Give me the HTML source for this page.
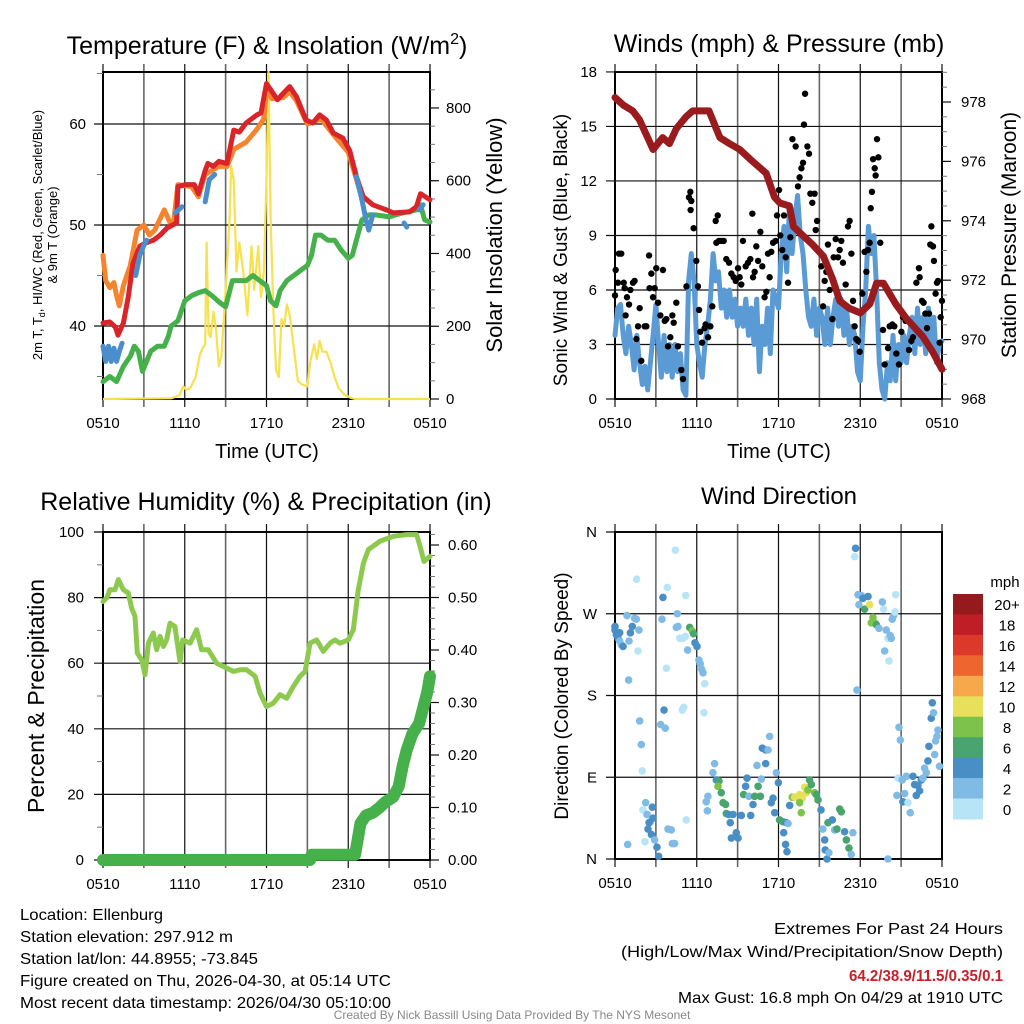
<!DOCTYPE html>
<html><head><meta charset="utf-8">
<style>
html,body{margin:0;padding:0;background:#fff;}
svg{display:block;font-family:"Liberation Sans",sans-serif;}
</style></head>
<body>
<svg id="fig" width="1024" height="1024" viewBox="0 0 1024 1024" xmlns="http://www.w3.org/2000/svg"></svg>
<script>
// ---------- DATA ----------
const timeTickLabels=["0510","1110","1710","2310","0510"];
const tempTicks=[40,50,60];
const solarTicks=[0,200,400,600,800];
const windTicks=[0,3,6,9,12,15,18];
const presTicks=[968,970,972,974,976,978];
const rhTicks=[0,20,40,60,80,100];
const precipTicks=[0,0.1,0.2,0.3,0.4,0.5,0.6];
const dirTickLabels=["N","E","S","W","N"];
const dirTickValues=[0,90,180,270,360];
const cbarLabels=["20+","18","16","14","12","10","8","6","4","2","0"];
const cbarColors=["#941a1d","#bf1e26","#dc392b","#ee6530","#f6a84a","#e7e05a","#7dc24a","#4aa46e","#4a8ec6","#80bbe6","#b8e4f7"];

const redT=[0,0.5,0.9,1.1,1.5,1.86,2.2,2.7,3.1,3.7,4.2,4.7,5.4,5.5,6.1,6.7,7.0,7.5,7.7,8.1,8.5,9.1,9.6,10.0,10.5,11.3,11.6,12.0,12.4,12.8,13.2,13.7,14.2,14.9,15.4,15.9,16.4,16.9,17.6,18.1,18.6,19.1,19.8,20.8,21.3,22.5,23.0,23.3,24];
const redV=[40.3,40.4,39.9,39.1,40.3,42.9,46.2,47.9,48.2,48.5,49.0,49.7,50.2,53.8,54.0,54.0,53.1,55.4,56.1,55.8,56.3,56.1,59.4,59.2,60.1,60.9,61.1,64.0,63.2,62.4,63.0,63.7,62.7,60.4,60.1,60.9,60.4,59.1,58.6,57.4,54.8,52.8,52.0,51.5,51.2,51.3,51.8,53.1,52.5];
const orangeT=[0,0.2,0.5,0.8,1.0,1.2,1.5,2.0,2.5,3.0,3.4,3.8,4.5,5.0,5.2,5.5,6.5,7.0,7.5,8.5,9.1,9.6,10.5,11.3,11.8,12.0,12.4,13.2,13.7,14.2,15.0,16.0,17.0,18.0,19.0];
const orangeV=[47,44.5,43.8,44.3,43,42,44,46,49.5,50,49,49.5,51.5,50,50.5,54,53.8,52.8,55,55.8,55.8,57.5,58.2,59.5,60.5,63.5,62.5,62.6,63.2,62.3,60,60.5,58.8,57.2,52.7];
const hiT=[0,0.2,0.4,0.6,0.8,1.0,1.2,1.4,null,2.4,2.7,3.0,3.2,null,5.3,5.8,null,7.5,7.8,8.2,null,18.6,19.0,19.3,19.5,19.8,null,22.1,22.3,null,23.2,23.5];
const hiV=[38,36.5,38,36.5,37.8,36.5,37.5,38.3,null,45,47,48,48.5,null,51.2,51.8,null,52.3,54.5,55,null,54.8,52.5,50.5,49.5,51,null,50.2,49.8,null,51.5,52];
const dewT=[0,0.5,1,1.5,2,2.3,2.6,2.9,3.2,3.5,4,4.5,4.8,5,5.5,6,6.5,7,7.5,8,8.5,9,9.5,10,10.5,11,11.5,12,12.3,12.7,13,13.5,14,14.5,15,15.3,15.6,16,16.5,17,17.5,18,18.3,18.6,19,19.5,20,21,22,23,23.3,23.6,24];
const dewV=[34.5,35,34.5,36,37,38,37.5,35.5,36.5,37.5,38,38,39,40,40.5,42.5,43,43.3,43.5,43,42.4,41.9,44.5,44.5,44.5,45,44.5,44,42.5,42,43.5,44.5,45,45.5,46,47,49,49,48.5,48.5,47.5,46.7,47,48.5,50.5,51,51,50.8,51.2,51.5,52,50.5,50.3];
const solarT=[0,5,5.6,5.9,6.1,6.4,6.8,7.1,7.3,7.5,7.6,7.75,7.9,8.1,8.3,8.5,8.7,9.0,9.3,9.4,9.6,9.8,10.0,10.3,10.6,10.9,11.1,11.4,11.6,11.8,12.0,12.15,12.3,12.5,12.7,12.9,13.1,13.3,13.5,13.7,14.0,14.3,14.6,15.0,15.2,15.5,15.7,15.9,16.1,16.4,16.7,17.0,17.3,17.7,18.2,18.5,24];
const solarV=[0,2,10,35,25,30,60,120,140,150,430,180,170,240,190,90,120,300,500,640,600,350,430,350,230,420,300,420,280,350,600,900,500,250,80,60,220,200,260,230,140,50,40,35,100,150,110,160,130,130,100,60,30,12,3,0,0];

const windStep=0.2;
const windV=[3.5,5.0,5.2,3.5,2.5,4.0,3,1.6,3.5,2,0.8,1.8,0.5,2,3.5,5.2,3,1.2,3.5,1.5,3,1.2,3,1.5,2.5,0.5,0.2,6.5,8,6.5,3,2,1.2,3,4,5.5,8,6.5,7,5,6,4.5,6,4.5,5.5,4,5,4,5.5,3.5,5,3,5.5,1.5,4,3,5,2.5,6,5.5,5,8,9.5,7,10.5,8,10,11.2,9,8,6,4.5,4,5.5,3.5,5,4.5,3,5,3,4.5,5.5,4,5.5,3.5,5,3,4,3.5,1.5,1,4,6,9.5,8,9,6,2,0.5,0,2,1,3.5,1,3,2,3.5,2,3.5,4.5,2.5,5,3,4.5,2.5,5,3,4.5,2,3,3.2];
const presT=[0,0.6,1.3,1.8,2.3,2.8,3.5,4.0,4.5,5.2,5.7,6.9,7.7,8.4,9.15,10.1,11.1,11.7,12.1,12.8,13.1,13.8,14.5,15.3,16.0,16.5,17.2,18.0,18.7,19.2,19.7,20.6,21.4,22.6,23.3,24];
const presV=[978.15,977.9,977.7,977.4,976.9,976.4,976.8,976.6,977.1,977.5,977.7,977.7,976.8,976.6,976.4,976.0,975.6,974.8,974.6,974.5,973.8,973.5,973.2,972.8,972.0,971.3,971.05,970.9,971.2,971.9,971.9,971.2,970.7,970.1,969.6,969.0];
const gustT=[0,0.05,0.22,0.29,0.46,0.64,0.71,0.78,0.88,1.03,1.13,1.32,1.44,1.57,1.69,1.81,1.93,2.18,2.3,2.5,2.54,2.67,2.79,2.91,3.03,3.16,3.33,3.52,3.65,3.77,3.89,4.06,4.21,4.31,4.5,4.62,4.87,4.99,5.24,5.43,5.53,5.6,5.55,5.77,5.97,6.09,6.17,6.26,6.39,6.58,6.65,6.83,7.0,7.14,7.39,7.54,7.44,7.63,7.8,7.98,8.17,8.37,8.54,8.71,8.86,9.03,9.15,9.27,9.39,9.59,9.76,9.93,10.08,10.13,10.25,10.37,10.5,10.67,10.81,10.98,11.11,11.23,11.35,11.47,11.6,11.79,11.89,12.04,12.13,12.28,12.4,12.53,12.7,12.87,13.02,13.26,13.43,13.55,13.68,13.8,13.87,13.95,14.12,14.24,14.34,14.48,14.65,14.73,14.83,15.14,15.27,15.39,15.51,15.63,15.76,15.95,16.05,16.2,16.37,16.49,16.61,16.73,16.93,17.1,17.22,17.35,17.47,17.59,17.71,17.84,17.96,18.15,18.32,18.45,18.57,18.69,18.77,18.86,18.94,19.06,19.13,19.23,19.33,19.47,19.67,19.79,20.04,20.16,20.35,20.5,20.65,20.84,21.02,21.14,21.33,21.46,21.58,21.75,21.87,22.12,22.31,22.36,22.53,22.65,22.78,22.9,23.05,23.14,23.22,23.34,23.41,23.53,23.63,23.71,23.83,23.9,24];
const gustV=[5.7,7.1,6.4,8.0,8.0,6.4,6.1,4.6,5.6,5.2,6.0,6.4,6.5,3.3,4.0,5.0,2.1,4.0,4.0,7.9,6.1,6.9,5.6,6.1,7.2,5.3,4.6,7.1,4.3,4.4,2.9,3.4,4.6,4.2,5.3,2.9,1.6,1.1,6.2,11.1,11.4,10.9,10.4,9.4,7.6,6.2,4.9,3.7,3.1,3.9,4.1,3.4,4.0,5.1,9.8,10.1,8.6,8.7,8.7,8.7,7.7,7.5,6.9,6.7,6.5,7.2,6.7,6.3,8.7,7.3,7.5,7.7,10.2,6.7,7.0,8.4,7.6,9.2,7.3,5.6,5.9,8.0,6.7,8.1,8.6,8.7,10.1,11.5,9.0,8.2,10.1,7.8,6.4,8.9,14.3,13.9,11.7,12.2,12.7,13.0,15.1,16.8,13.9,13.5,11.3,10.8,11.3,9.3,9.8,7.3,5.1,6.5,7.0,8.5,6.0,4.4,7.8,8.8,7.8,8.2,8.7,7.5,6.3,9.5,9.8,8.0,5.4,4.0,3.3,3.2,2.6,5.8,8.1,7.0,8.2,8.6,10.5,11.4,13.2,12.7,12.3,14.3,13.3,8.6,3.8,1.9,2.8,4.0,4.1,4.0,2.5,1.9,3.7,4.5,4.3,4.3,2.7,3.2,3.4,6.4,7.2,6.7,5.4,5.3,4.7,3.9,4.7,8.5,9.5,8.4,7.6,5.8,6.4,6.5,3.1,4.5,5.4];

const rhT=[0,0.27,0.51,0.88,1.13,1.49,1.86,2.1,2.35,2.52,2.84,3.08,3.33,3.69,3.94,4.18,4.43,4.67,4.92,5.28,5.65,5.85,6.39,6.87,7.24,7.73,8.34,9.08,9.56,10.05,10.54,11.16,11.52,12.0,12.5,12.99,13.48,13.97,14.46,14.83,15.19,15.68,16.17,16.66,17.03,17.39,18.0,18.37,18.74,19.11,19.47,20.33,21.31,22.29,23.02,23.27,23.56,24];
const rhV=[78.8,79.9,82.4,82.4,85.5,82.4,81.4,76.8,74.3,63.1,61.0,56.5,66.1,69.2,64.1,68.2,65.1,67.1,72.2,71.2,60.5,67.1,66.1,70.2,64.1,64.1,60.0,58.5,57.5,58.0,58.0,56.0,50.9,46.8,47.8,50.4,49.3,52.9,56.0,57.5,66.1,67.1,63.6,66.1,67.1,66.1,67.1,70.2,82.4,90.5,94.6,97.2,98.7,99.2,99.2,95.6,91.0,92.6];
const precipT=[0,15.2,15.3,18.5,18.7,18.9,19.3,19.8,20.3,20.7,21.3,21.7,22.0,22.3,22.7,23.2,23.5,23.8,24];
const precipV=[0,0,0.01,0.01,0.04,0.07,0.085,0.09,0.1,0.11,0.12,0.14,0.18,0.21,0.24,0.26,0.29,0.32,0.35];

const dirT=[0,0,0.1,0.22,0.34,0.46,0.59,0.34,0.88,1.03,1.13,1.27,1.44,1.57,1.76,1.69,1.0,1.59,1.81,1.93,2.0,2.25,2.05,2.35,2.59,2.74,2.5,2.42,2.79,2.67,2.2,2.91,3.08,3.2,0.93,3.52,3.84,3.45,3.77,3.6,3.35,3.69,3.89,4.13,4.21,4.38,4.43,4.57,4.5,4.62,4.75,4.99,5.16,5.19,5.33,5.48,5.67,5.77,5.87,6.02,6.16,6.26,6.36,6.46,6.58,4.94,5.04,6.53,5.23,7.19,7.31,7.44,7.63,7.56,7.8,6.82,6.7,6.78,7.93,8.12,8.17,8.34,8.46,8.66,8.9,8.54,9.03,9.27,9.44,9.59,9.69,9.83,9.96,10.13,10.25,10.5,10.67,10.74,10.42,10.81,11.06,11.23,11.35,11.06,11.47,11.6,11.72,11.84,11.99,12.08,12.33,12.57,12.7,12.38,12.52,12.62,12.82,13.01,13.18,13.36,13.55,13.75,13.92,14.04,14.16,14.28,14.41,14.65,14.77,14.9,13.55,13.67,15.12,15.26,15.39,15.43,15.56,15.7,15.63,15.95,16.12,16.29,16.49,16.61,16.85,16.98,17.17,17.34,17.46,17.66,17.59,17.76,17.83,17.9,18.08,18.2,18.32,18.57,18.69,18.93,18.81,19.05,19.18,19.37,19.62,19.72,19.91,20.03,20.11,19.79,20.2,20.28,20.35,20.45,20.55,20.6,20.03,20.77,20.69,20.84,20.94,21.08,21.13,21.26,21.38,21.5,21.67,21.87,21.99,22.11,22.23,22.36,22.48,22.6,22.72,22.85,22.97,23.04,23.21,23.29,23.38,23.46,23.53,23.63,23.7,23.82,23.95,23.87];
const dirDeg=[256,252,247,243,240,236,234,249,268,240,249,256,265,264,252,229,197,308,152,126,97,62,54,49,41,57,40,33,45,27,19,21,13,3,16,288,299,264,210,164,148,144,33,32,17,17,340,270,255,256,243,243,245,290,230,255,251,248,238,234,219,215,209,205,193,164,167,161,43,95,105,87,86,80,73,69,63,53,62,60,50,49,40,49,29,23,23,48,71,80,89,69,48,60,69,80,69,88,103,122,120,120,135,105,62,67,51,95,84,43,41,40,39,29,16,8,59,68,68,68,71,67,79,73,76,87,82,73,71,65,62,51,54,33,21,10,0,7,40,43,32,33,55,52,30,21,12,5,29,342,333,186,291,280,290,287,275,289,280,266,260,260,258,254,283,275,252,243,218,229,246,243,264,268,272,291,0,89,70,145,131,87,63,72,91,62,51,91,82,70,81,75,87,89,100,95,108,124,155,172,161,115,130,135,142,102,67,53];
const dirSpeed=[5,5,5,5,3,3,5,5,3,3,5,5,3,3,3,1,3,1,3,3,1,3,1,3,3,5,5,5,5,5,1,3,5,5,3,5,1,3,1,5,3,3,3,3,3,3,1,3,3,3,1,1,1,1,3,7,9,7,5,5,3,3,3,3,1,1,1,1,1,3,3,5,7,9,7,3,3,3,7,7,7,5,5,5,5,5,5,5,7,5,5,3,5,5,7,7,7,3,3,5,5,3,3,5,5,5,5,3,5,7,7,5,3,5,5,5,5,9,11,11,11,11,11,11,9,7,7,9,7,7,9,9,5,3,5,5,5,3,7,5,3,7,7,7,5,7,7,3,3,5,1,3,3,3,3,5,7,5,11,9,9,9,7,3,3,1,3,1,1,3,3,3,3,3,1,1,3,1,3,3,3,3,5,3,3,1,3,5,5,5,5,5,5,3,3,3,5,5,5,5,3,3,3,3,3,3];

// ---------- HELPERS ----------
const NS="http://www.w3.org/2000/svg";
const svg=document.getElementById('fig');
function mk(tag,attrs,parent){const e=document.createElementNS(NS,tag);for(const k in attrs)e.setAttribute(k,attrs[k]);(parent||svg).appendChild(e);return e;}
function txt(s,x,y,size,anchor,parent,extra){const e=mk('text',Object.assign({x:x,y:y,'font-size':size,'text-anchor':anchor||'middle',fill:'#000'},extra||{}),parent);e.textContent=s;return e;}
function pathD(ts,vs,fx,fy){let d='',pen=false;const n=Math.min(ts.length,vs.length);for(let i=0;i<n;i++){if(ts[i]===null||vs[i]===null){pen=false;continue;}d+=(pen?'L':'M')+fx(ts[i]).toFixed(1)+','+fy(vs[i]).toFixed(1);pen=true;}return d;}

function frame(P,name){
  const g=mk('g',{});
  
  
  for(let h=0;h<=24;h+=3){
    const x=P.fx(h);
    const l=mk('line',{x1:x,y1:P.y0-8,x2:x,y2:P.y1+8,stroke:(h%6===0)?'#111':'#666','stroke-width':(h%6===0)?1.2:1.6},g);
    
    
  }
  for(let i=0;i<timeTickLabels.length;i++){
    const t=txt(timeTickLabels[i],P.fx(i*6),P.y1+29,15,'middle',g);
    
    
  }
  const r=mk('rect',{x:P.x0,y:P.y0,width:P.x1-P.x0,height:P.y1-P.y0,fill:'none',stroke:'#000','stroke-width':2},g);
  
  
  return g;
}
function hgrid(g,P,vals,fy,labels,lx){
  for(let i=0;i<vals.length;i++){
    const y=fy(vals[i]);
    const l=mk('line',{x1:P.x0-9,y1:y,x2:P.x1,y2:y,stroke:'#111','stroke-width':1.2},g);
    
    
    const t=txt(labels[i],lx,y+5,15,'end',g);
    
    
  }
}
function rightAxis(g,P,majors,fy,labels,minStep,minLo,minHi,lx){
  for(let v=minLo;v<=minHi+1e-9;v+=minStep){
    const y=fy(v);
    const l=mk('line',{x1:P.x1,y1:y,x2:P.x1+5,y2:y,stroke:'#777','stroke-width':1},g);
    
    
  }
  for(let i=0;i<majors.length;i++){
    const y=fy(majors[i]);
    const l=mk('line',{x1:P.x1,y1:y,x2:P.x1+9,y2:y,stroke:'#111','stroke-width':1.2},g);
    
    
    const t=txt(labels[i],lx,y+5,15,'start',g);
    
    
  }
}
function vtitle(s,x,y,size,name){
  const t=txt(s,x,y,size,'middle',svg,{transform:'rotate(-90 '+x+' '+y+')'});
  
  
  return t;
}

// ---------- PANEL 1: Temperature ----------
const P1={x0:103,x1:430,y0:72,y1:399};
P1.fx=t=>P1.x0+t*(P1.x1-P1.x0)/24;
const yT=v=>326-(v-40)*10.1;
const yS=v=>399-v*0.3638;
let g1=frame(P1,'temperature');
hgrid(g1,P1,tempTicks,yT,tempTicks.map(String),86);
[35,45,55,65].forEach(v=>{const l=mk('line',{x1:P1.x0-6,y1:yT(v),x2:P1.x0,y2:yT(v),stroke:'#777'},g1);});
rightAxis(g1,P1,solarTicks,yS,solarTicks.map(String),50,0,850,446);
let e;
e=mk('path',{d:pathD(solarT,solarV,P1.fx,yS),fill:'none',stroke:'#f7e14f','stroke-width':2.2,'stroke-linejoin':'round'});


e=mk('path',{d:pathD(dewT,dewV,P1.fx,yT),fill:'none',stroke:'#46b04a','stroke-width':5,'stroke-linejoin':'round','stroke-linecap':'round'});


e=mk('path',{d:pathD(orangeT,orangeV,P1.fx,yT),fill:'none',stroke:'#f5842e','stroke-width':5,'stroke-linejoin':'round','stroke-linecap':'round'});


e=mk('path',{d:pathD(redT,redV,P1.fx,yT),fill:'none',stroke:'#d9252a','stroke-width':5,'stroke-linejoin':'round','stroke-linecap':'round'});


e=mk('path',{d:pathD(hiT,hiV,P1.fx,yT),fill:'none',stroke:'#4a8fcc','stroke-width':5,'stroke-linejoin':'round','stroke-linecap':'round'});


e=txt('',267,54,25,'middle');
e.innerHTML='Temperature (F) &amp; Insolation (W/m<tspan font-size="16" dy="-10">2</tspan><tspan dy="10">)</tspan>';


e=txt('Time (UTC)',267,458,20,'middle');


e=txt('',42,235,13,'middle',svg,{transform:'rotate(-90 42 235)'});
e.innerHTML='2m T, T<tspan font-size="9" dy="3">d</tspan><tspan dy="-3">, HI/WC (Red, Green, Scarlet/Blue)</tspan>';


vtitle('& 9m T (Orange)',57,235,13,'temperature-y-axis-subtitle');
vtitle('Solar Insolation (Yellow)',502,235,22,'solar-y-axis-title');

// ---------- PANEL 2: Winds ----------
const P2={x0:615,x1:942,y0:72,y1:399};
P2.fx=t=>P2.x0+t*(P2.x1-P2.x0)/24;
const yW=v=>399-v*18.17;
const yP=v=>399-(v-968)*29.7;
let g2=frame(P2,'winds');
hgrid(g2,P2,windTicks,yW,windTicks.map(String),597);
rightAxis(g2,P2,presTicks,yP,presTicks.map(String),0.5,968,979,961);
const windTimes=windV.map((v,i)=>i*windStep);
e=mk('path',{d:pathD(windTimes,windV,P2.fx,yW),fill:'none',stroke:'#5b9bd5','stroke-width':5,'stroke-linejoin':'round','stroke-linecap':'round'});


const gg=mk('g',{});


for(let i=0;i<Math.min(gustT.length,gustV.length);i++){
  const c=mk('circle',{cx:P2.fx(gustT[i]),cy:yW(gustV[i]),r:3.2,fill:'#000'},gg);
  
  
}
e=mk('path',{d:pathD(presT,presV,P2.fx,yP),fill:'none',stroke:'#9a1b1e','stroke-width':7,'stroke-linejoin':'round','stroke-linecap':'round'});


e=txt('Winds (mph) & Pressure (mb)',779,52,25,'middle');


e=txt('Time (UTC)',779,458,20,'middle');


vtitle('Sonic Wind & Gust (Blue, Black)',567,250,19,'wind-y-axis-title');
vtitle('Station Pressure (Maroon)',1016,235,21,'pressure-y-axis-title');

// ---------- PANEL 3: RH ----------
const P3={x0:103,x1:430,y0:532,y1:860};
P3.fx=t=>P3.x0+t*(P3.x1-P3.x0)/24;
const yRH=v=>860-v*3.28;
const yPr=v=>860-v*525;
let g3=frame(P3,'humidity');
hgrid(g3,P3,rhTicks,yRH,rhTicks.map(String),84);
[10,30,50,70,90].forEach(v=>{const l=mk('line',{x1:P3.x0-6,y1:yRH(v),x2:P3.x0,y2:yRH(v),stroke:'#777'},g3);});
rightAxis(g3,P3,precipTicks,yPr,precipTicks.map(v=>v.toFixed(2)),0.02,0,0.62,448);
e=mk('path',{d:pathD(rhT,rhV,P3.fx,yRH),fill:'none',stroke:'#8dc94f','stroke-width':5,'stroke-linejoin':'round','stroke-linecap':'round'});


e=mk('path',{d:pathD(precipT,precipV,P3.fx,yPr),fill:'none',stroke:'#46b04a','stroke-width':12,'stroke-linejoin':'round','stroke-linecap':'round'});


e=txt('Relative Humidity (%) & Precipitation (in)',266,510,25,'middle');


vtitle('Percent & Precipitation',44,696,23,'humidity-y-axis-title');

// ---------- PANEL 4: Wind Direction ----------
const P4={x0:615,x1:942,y0:532,y1:859};
P4.fx=t=>P4.x0+t*(P4.x1-P4.x0)/24;
const yD=v=>859-v*(327/360);
let g4=frame(P4,'wind-direction');
hgrid(g4,P4,dirTickValues,yD,dirTickLabels,597);
const gd=mk('g',{});


function speedColor(s){let b=Math.floor(s/2);if(b>10)b=10;return cbarColors[10-b];}
const nd=Math.min(dirT.length,dirDeg.length,dirSpeed.length);
for(let i=0;i<nd;i++){
  const c=mk('circle',{cx:P4.fx(dirT[i]),cy:yD(dirDeg[i]),r:3.8,fill:speedColor(dirSpeed[i])},gd);
  
  
}
e=txt('Wind Direction',779,504,24,'middle');


vtitle('Direction (Colored By Speed)',568,696,19,'direction-y-axis-title');
const cb=mk('g',{});


const cbTop=594,cbH=225/11;
for(let i=0;i<cbarColors.length;i++){
  const r=mk('rect',{x:953,y:cbTop+i*cbH,width:30,height:cbH+0.5,fill:cbarColors[i]},cb);
  
  
  const t=txt(cbarLabels[i],1007,cbTop+i*cbH+cbH/2+6,15,'middle',cb);
  
  
}
e=txt('mph',1005,587,15,'middle',cb);



// ---------- FOOTER ----------
const leftLines=["Location: Ellenburg","Station elevation: 297.912 m","Station lat/lon: 44.8955; -73.845","Figure created on Thu, 2026-04-30, at 05:14 UTC","Most recent data timestamp: 2026/04/30 05:10:00"];
const leftLens=[143,213,238,371,371];
leftLines.forEach((s,i)=>{const t=txt(s,20,920+i*22,16,'start',svg,{textLength:leftLens[i],lengthAdjust:'spacingAndGlyphs'});});
e=txt('Extremes For Past 24 Hours',1003,934,16,'end',svg,{textLength:229,lengthAdjust:'spacingAndGlyphs'});


e=txt('(High/Low/Max Wind/Precipitation/Snow Depth)',1003,957,16,'end',svg,{textLength:382,lengthAdjust:'spacingAndGlyphs'});


e=txt('64.2/38.9/11.5/0.35/0.1',1003,981,16,'end',svg,{fill:'#c8202a','font-weight':'bold',textLength:154,lengthAdjust:'spacingAndGlyphs'});


e=txt('Max Gust: 16.8 mph On 04/29 at 1910 UTC',1003,1003,16,'end',svg,{textLength:325,lengthAdjust:'spacingAndGlyphs'});


e=txt('Created By Nick Bassill Using Data Provided By The NYS Mesonet',512,1019,12,'middle',svg,{fill:'#888'});


</script>
</body></html>
